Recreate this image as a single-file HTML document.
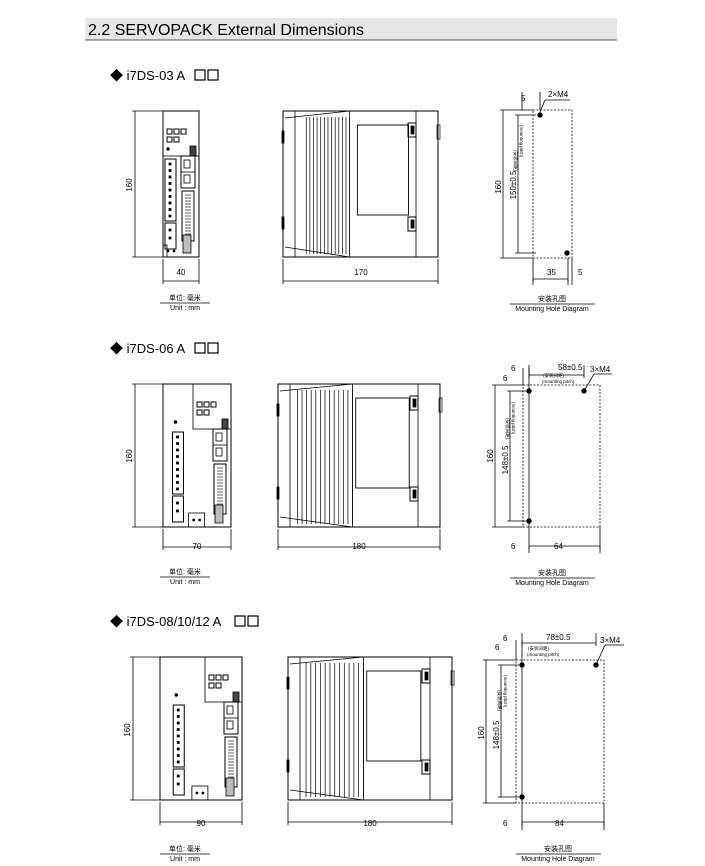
<!DOCTYPE html>
<html><head><meta charset="utf-8"><style>
html,body{margin:0;padding:0;background:#fff;}
svg{display:block;}
text{font-family:"Liberation Sans","Noto Sans CJK SC",sans-serif;fill:#000;}
</style></head><body>
<svg id="s" width="705" height="866" viewBox="0 0 705 866" xmlns="http://www.w3.org/2000/svg">
<rect x="85" y="18" width="532" height="22" fill="#e6e6e6"/>
<line x1="85" y1="40" x2="617" y2="40" stroke="#555" stroke-width="1"/>
<text x="88" y="35" font-size="16">2.2  SERVOPACK External Dimensions</text>

<text x="110" y="80" font-size="13">◆  i7DS-03 A</text>
<rect x="195" y="70" width="10" height="10" fill="none" stroke="#000" stroke-width="1.2"/>
<rect x="208" y="70" width="10" height="10" fill="none" stroke="#000" stroke-width="1.2"/>
<text x="110" y="353" font-size="13">◆  i7DS-06 A</text>
<rect x="195" y="343" width="10" height="10" fill="none" stroke="#000" stroke-width="1.2"/>
<rect x="208" y="343" width="10" height="10" fill="none" stroke="#000" stroke-width="1.2"/>
<text x="110" y="626" font-size="13">◆  i7DS-08/10/12 A</text>
<rect x="235" y="616" width="10" height="10" fill="none" stroke="#000" stroke-width="1.2"/>
<rect x="248" y="616" width="10" height="10" fill="none" stroke="#000" stroke-width="1.2"/>

<g font-size="8">
<text x="181" y="275" text-anchor="middle">40</text>
<text x="361" y="275" text-anchor="middle">170</text>
<text transform="translate(132,185) rotate(-90)" text-anchor="middle">160</text>
<text x="197" y="549" text-anchor="middle">70</text>
<text x="359" y="549" text-anchor="middle">180</text>
<text transform="translate(132,456) rotate(-90)" text-anchor="middle">160</text>
<text x="201" y="826" text-anchor="middle">90</text>
<text x="370" y="826" text-anchor="middle">180</text>
<text transform="translate(130,730) rotate(-90)" text-anchor="middle">160</text>
</g>
<g font-size="7" text-anchor="middle">
<text x="185" y="300">单位: 毫米</text><text x="185" y="310">Unit : mm</text>
<text x="185" y="574">单位: 毫米</text><text x="185" y="584">Unit : mm</text>
<text x="185" y="851">单位: 毫米</text><text x="185" y="861">Unit : mm</text>
<text x="552" y="301">安装孔图</text><text x="552" y="311">Mounting Hole Diagram</text>
<text x="552" y="575">安装孔图</text><text x="552" y="585">Mounting Hole Diagram</text>
<text x="558" y="851">安装孔图</text><text x="558" y="861">Mounting Hole Diagram</text>
</g>
<g stroke="#000" stroke-width="0.8">
<line x1="160" y1="303" x2="210" y2="303"/><line x1="160" y1="577" x2="210" y2="577"/><line x1="160" y1="854" x2="210" y2="854"/>
<line x1="510" y1="304" x2="595" y2="304"/><line x1="510" y1="578" x2="595" y2="578"/><line x1="516" y1="854" x2="601" y2="854"/>
</g>
<g font-size="8">
<text x="521" y="101">5</text><text x="548" y="97">2×M4</text>
<text transform="translate(501,187) rotate(-90)" text-anchor="middle">160</text>
<text transform="translate(516,185) rotate(-90)" text-anchor="middle">150±0.5</text>
<text x="547" y="275">35</text><text x="578" y="275">5</text>
<text x="511" y="371">6</text><text x="558" y="370">58±0.5</text><text x="590" y="372">3×M4</text>
<text x="503" y="381">6</text>
<text transform="translate(493,456) rotate(-90)" text-anchor="middle">160</text>
<text transform="translate(508,460) rotate(-90)" text-anchor="middle">148±0.5</text>
<text x="511" y="549">6</text><text x="554" y="549">64</text>
<text x="503" y="641">6</text><text x="546" y="640">78±0.5</text><text x="600" y="643">3×M4</text>
<text x="495" y="650">6</text>
<text transform="translate(484,733) rotate(-90)" text-anchor="middle">160</text>
<text transform="translate(499,735) rotate(-90)" text-anchor="middle">148±0.5</text>
<text x="503" y="826">6</text><text x="555" y="826">84</text>
</g>
<g font-size="4.5">
<text x="543" y="377">(安装间距)</text><text x="542" y="383">(mounting pitch)</text>
<text x="528" y="650">(安装间距)</text><text x="527" y="656">(mounting pitch)</text>
<text transform="translate(520,125) rotate(90)">(mounting pitch)</text><text transform="translate(514,150) rotate(90)">(安装间距)</text>
<text transform="translate(512,402) rotate(90)">(mounting pitch)</text><text transform="translate(506,418) rotate(90)">(安装间距)</text>
<text transform="translate(504,675) rotate(90)">(mounting pitch)</text><text transform="translate(498,690) rotate(90)">(安装间距)</text>
</g>
<g id="d" fill="none" stroke="#000" stroke-width="0.8"></g>
</svg>
<script>
var g=document.getElementById('d'),NS='http://www.w3.org/2000/svg';
function el(t,a){var e=document.createElementNS(NS,t);for(var k in a)e.setAttribute(k,a[k]);g.appendChild(e);return e;}
function L(x1,y1,x2,y2,w,dash){var e=el('line',{x1:x1,y1:y1,x2:x2,y2:y2});if(w)e.setAttribute('stroke-width',w);if(dash)e.setAttribute('stroke-dasharray',dash);}
function R(x,y,w,h,f,sw){var e=el('rect',{x:x,y:y,width:w,height:h});if(f)e.setAttribute('fill',f);if(sw)e.setAttribute('stroke-width',sw);}
function C(x,y,r){el('circle',{cx:x,cy:y,r:r,fill:'#000'});}
function hdim(x1,x2,y,ext){L(x1,y,x2,y,0.8);L(x1,y-ext,x1,y+3);L(x2,y-ext,x2,y+3);}
function vdim(x,y1,y2,ext){L(x,y1,x,y2,0.8);L(x-3,y1,x+ext,y1);L(x-3,y2,x+ext,y2);}
function front(x,y,w,h,panelX){
 R(x,y,w,h,null,1);
 var px=panelX;R(px,y,x+w-px,45);
 for(var i=0;i<3;i++)R(px+4+i*7,y+18,5,5,null,1);
 for(i=0;i<2;i++)R(px+4+i*7,y+26,5,5,null,1);
 R(x+w-9,y+35,6,10,'#444');
 var cx=x+w-18;R(cx,y+45,14,32,null,1);L(cx,y+61,cx+14,y+61);R(cx+3,y+49,6,8);R(cx+3,y+64,6,8);
 R(cx+1,y+80,12,50,null,1);for(i=0;i<14;i++)L(cx+4,y+84+i*3,cx+10,y+84+i*3,0.6);
 R(cx+2,y+h-22,8,18,'#bbb');
 var lx=x+(panelX-x)*0.25+2;C(lx+3,y+38,1.3);
 R(lx,y+48,11,62,null,1);for(i=0;i<9;i++)R(lx+4,y+52+i*6.5,2,2,'#000');
 R(lx,y+112,11,26,null,1);R(lx+4,y+118,2,2,'#000');R(lx+4,y+126,2,2,'#000');
 if(w<45){R(x,y+h-12,panelX-x+4,12);C(x+5,y+h-6,1);C(x+11,y+h-6,1);}
 else{R(x+(w)*0.45-5,y+h-14,16,14);C(x+w*0.45,y+h-7,1);C(x+w*0.45+6,y+h-7,1);}
}
function side(x,y,w,h,f1,f2){
 R(x,y,w,h,null,1);
 L(x+12,y,x+12,y+h);
 var a=x+w*f1,b=x+w*f2;
 L(x+2,y+7,b,y,0.8);L(x+2,y+h-10,b,y+h);
 for(var i=0;i<13;i++){var xx=a+(b-a)*i/12;L(xx,y+6,xx,y+h-3,0.7);}
 L(b,y,b,y+h);
 var wx=x+w*0.48,ww=w*0.33;R(wx,y+14,ww,90,null,0.9);
 var rx=x+w-22;L(rx,y,rx,y+h);
 R(rx-8,y+12,8,14,null,1);R(rx-5,y+15,3,8,'#000');
 R(rx-8,y+h-40,8,14,null,1);R(rx-5,y+h-37,3,8,'#000');
 R(x-1,y+20,2,12,'#000');R(x-1,y+h-40,2,12,'#000');
 R(x+w-1,y+14,3,14,null,0.7);
}
front(163,111,36,146,163);
vdim(135,111,257,28);hdim(163,199,281,22);
side(283,111,155,146,0.15,0.43);hdim(283,438,281,22);
front(163,384,68,143,193);
vdim(135,384,527,28);hdim(163,231,547,18);
side(278,384,162,143,0.12,0.46);hdim(278,440,547,18);
front(160,657,82,143,205);
vdim(133,657,800,27);hdim(160,242,822,20);
side(288,657,164,143,0.11,0.46);hdim(288,452,822,20);
R(533,110,39,148,null,0.8);g.lastChild.setAttribute('stroke-dasharray','2,1.5');
vdim(503,110,258,30);vdim(518,115,253,18);C(540,115,2.3);C(567,253,2.3);
L(533,258,533,285);L(568,258,568,285);L(572,258,572,285);hdim(533,568,279,0);
L(522,92,522,110);L(540,110,540,92);L(545,100,540,112);L(545,100,570,100);
R(523,385,77,142,null,0.8);g.lastChild.setAttribute('stroke-dasharray','2,1.5');
vdim(495,385,527,28);vdim(510,391,521,16);C(529,391,2.3);C(584,391,2.3);C(529,521,2.3);
L(523,368,523,385);L(529,368,529,553);L(600,527,600,553);hdim(529,600,546,0);hdim(529,584,375,10);
L(584,391,594,374);L(594,374,612,374);
R(516,660,88,143,null,0.8);g.lastChild.setAttribute('stroke-dasharray','2,1.5');
vdim(486,660,803,30);vdim(501,665,797,18);C(522,665,2.3);C(596,665,2.3);C(522,797,2.3);
L(516,640,516,660);L(522,640,522,830);L(604,803,604,830);hdim(522,604,822,0);hdim(522,596,643,10);
L(596,665,605,645);L(605,645,624,645);
</script>
</body></html>
